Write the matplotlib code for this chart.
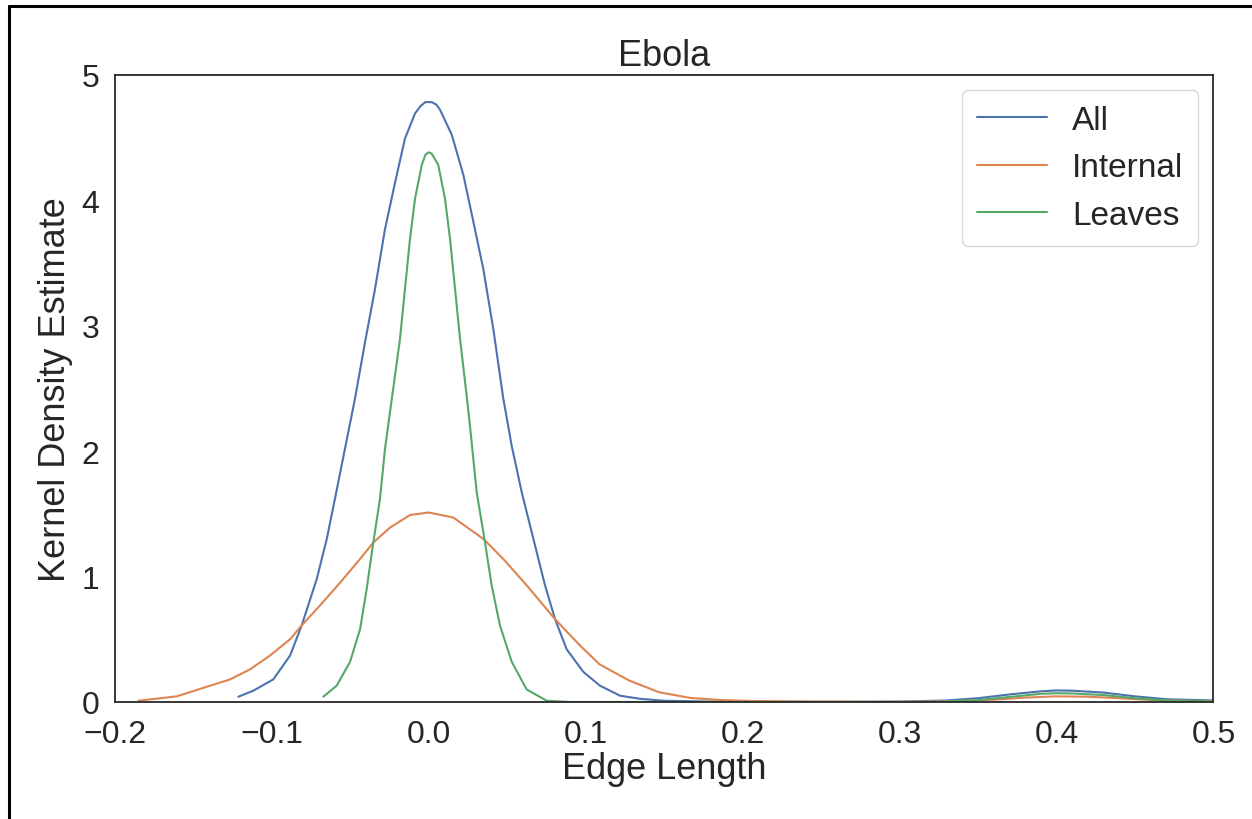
import matplotlib
matplotlib.use("Agg")
import matplotlib.pyplot as plt
import seaborn as sns
from matplotlib.lines import Line2D

# values
all_x = [-0.1211, -0.1116, -0.0989, -0.0882, -0.0808, -0.0712, -0.0648, -0.0596, -0.0532,
         -0.0468, -0.0404, -0.0341, -0.0277, -0.0213, -0.015, -0.0086, -0.005, -0.002, 0.002,
         0.005, 0.0073, 0.0148, 0.0222, 0.0285, 0.0349, 0.0413, 0.0476, 0.053, 0.0594, 0.0668,
         0.0742, 0.0806, 0.088, 0.0986, 0.1092, 0.122, 0.135, 0.15, 0.18, 0.22, 0.26, 0.30,
         0.33, 0.35, 0.37, 0.39, 0.40, 0.41, 0.43, 0.45, 0.47, 0.50]
all_y = [0.042, 0.09, 0.18, 0.37, 0.61, 0.98, 1.30, 1.62, 2.02,
         2.42, 2.87, 3.29, 3.77, 4.14, 4.49, 4.69, 4.75, 4.78, 4.78,
         4.76, 4.72, 4.52, 4.20, 3.83, 3.45, 2.97, 2.42, 2.04, 1.67, 1.30,
         0.93, 0.66, 0.42, 0.24, 0.13, 0.05, 0.025, 0.01, 0.003, 0.001, 0.001, 0.003,
         0.012, 0.03, 0.06, 0.085, 0.092, 0.09, 0.075, 0.045, 0.022, 0.012]

internal_x = [-0.1848, -0.1604, -0.139, -0.1264, -0.1137, -0.101, -0.0882, -0.0808, -0.0691,
              -0.0564, -0.0436, -0.0352, -0.0245, -0.0118, 0.0, 0.0158, 0.0349, 0.0476,
              0.0625, 0.0806, 0.0965, 0.109, 0.122, 0.128, 0.147, 0.167, 0.186, 0.205,
              0.25, 0.30, 0.33, 0.36, 0.38, 0.40, 0.42, 0.44, 0.46, 0.50]
internal_y = [0.01, 0.045, 0.13, 0.18, 0.26, 0.37, 0.50, 0.61, 0.77,
              0.95, 1.14, 1.27, 1.39, 1.49, 1.51, 1.47, 1.30, 1.14,
              0.93, 0.66, 0.45, 0.30, 0.21, 0.17, 0.077, 0.032, 0.016, 0.008,
              0.003, 0.002, 0.005, 0.018, 0.035, 0.045, 0.042, 0.03, 0.016, 0.006]

leaves_x = [-0.067, -0.0585, -0.05, -0.0436, -0.0394, -0.0352, -0.0309, -0.0277, -0.0229,
            -0.0182, -0.015, -0.0118, -0.0086, -0.0043, -0.002, 0.0, 0.002, 0.0062, 0.0105,
            0.0137, 0.0169, 0.0201, 0.0243, 0.0264, 0.0307, 0.036, 0.0402, 0.0455, 0.053,
            0.0625, 0.0753, 0.09, 0.15, 0.25, 0.32, 0.35, 0.37, 0.39, 0.40, 0.41, 0.43,
            0.45, 0.47, 0.50]
leaves_y = [0.042, 0.13, 0.32, 0.58, 0.90, 1.27, 1.62, 2.02, 2.46,
            2.89, 3.29, 3.69, 4.01, 4.28, 4.36, 4.38, 4.37, 4.28, 4.01,
            3.69, 3.29, 2.89, 2.44, 2.20, 1.67, 1.27, 0.93, 0.61, 0.32,
            0.10, 0.01, 0.0, 0.0, 0.0, 0.0, 0.015, 0.04, 0.065, 0.07, 0.068, 0.055,
            0.03, 0.012, 0.005]

series_names = ["All", "Internal", "Leaves"]
x_ticks = [-0.2, -0.1, 0.0, 0.1, 0.2, 0.3, 0.4, 0.5]
y_ticks = [0, 1, 2, 3, 4, 5]

sns.set_style("white")
plt.rcParams['font.family'] = ['Liberation Sans', 'DejaVu Sans']
colors = sns.color_palette("deep")

fig = plt.figure(figsize=(12.52, 8.2), dpi=100)
ax = fig.add_axes([0.0915, 0.1427, 0.8777, 0.7652])

ax.plot(all_x, all_y, color=colors[0], lw=1.5, label=series_names[0])
ax.plot(internal_x, internal_y, color=colors[1], lw=1.5, label=series_names[1])
ax.plot(leaves_x, leaves_y, color=colors[2], lw=1.5, label=series_names[2])

ax.set_xlim(-0.2, 0.5)
ax.set_ylim(0, 5)
ax.set_xticks(x_ticks)
ax.set_yticks(y_ticks)
ax.tick_params(axis="x", labelsize=23, length=0, pad=12)
ax.tick_params(axis="y", labelsize=23, length=0, pad=11)
ax.set_xlabel("Edge Length", fontsize=26, labelpad=2)
ax.set_ylabel("Kernel Density Estimate", fontsize=26, labelpad=6)
ax.set_title("Ebola", fontsize=26, pad=7)
for s in ax.spines.values():
    s.set_color("#262626")
    s.set_linewidth(1.3)

leg = ax.legend(loc="upper right", fontsize=24, handlelength=2.1, borderaxespad=0.45,
                labelspacing=0.5, handletextpad=0.75, borderpad=0.45)

# frame of the screenshot (left and top edges)
fig.add_artist(Line2D([9 / 1252, 9 / 1252], [0, 1 - 7 / 820], color="black", lw=2.2,
                      transform=fig.transFigure))
fig.add_artist(Line2D([9 / 1252, 1], [1 - 7 / 820, 1 - 7 / 820], color="black", lw=2.2,
                      transform=fig.transFigure))

fig.savefig("out.png", dpi=100)
